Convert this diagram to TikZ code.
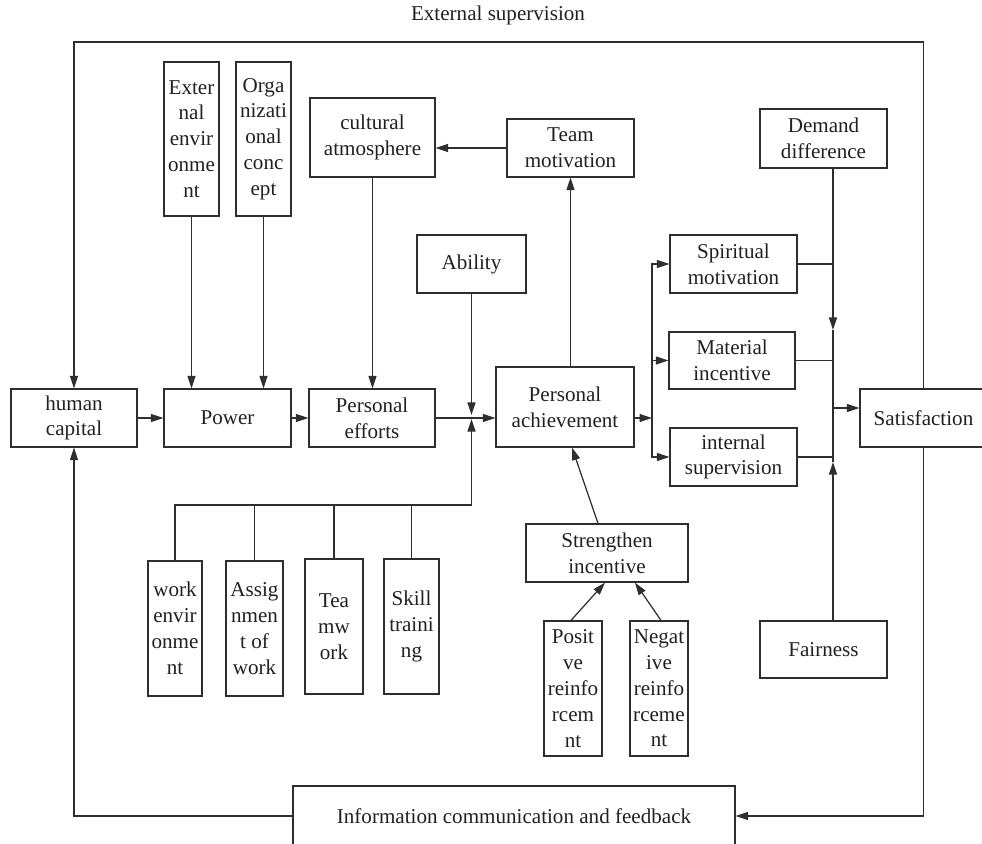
\documentclass[tikz,border=0pt]{standalone}
\usepackage{fontspec}
\setmainfont{Liberation Serif}
\usepackage{xcolor}
\usepackage{tikz}
\usetikzlibrary{arrows.meta,positioning}
\definecolor{LineDark}{HTML}{2E2E2E}
\definecolor{TextDark}{HTML}{231F20}
\newcommand\boxfont{\fontsize{12}{14.7}\selectfont}
\tikzset{
  widebox/.style={draw=LineDark,line width=0.7pt,align=center,inner sep=0pt,font=\boxfont,text=TextDark,minimum width=25.4mm,minimum height=11.6mm},
  tallbox/.style={widebox,minimum width=11.2mm,minimum height=27mm},
  linkarrow/.style={-{Triangle[length=2.5mm,width=1.6mm]},line width=0.7pt,draw=LineDark},
  plainlink/.style={line width=0.7pt,draw=LineDark}
}

\begin{document}
\begin{tikzpicture}[x=0.2mm,y=-0.2mm]
\useasboundingbox (0,0) rectangle (982,844);
\clip (0,0) rectangle (982,844);
\node[font=\boxfont,text=TextDark] (extsup) at (498,15) {External supervision};
\node[widebox,minimum width=25.2mm] (hcap) at (74,418) {human\\capital};
\node[widebox] (power) at (227.5,418) {Power};
\node[widebox,minimum width=25.2mm] (effort) at (372,418) {Personal\\efforts};
\node[widebox,minimum width=27.6mm,minimum height=16mm] (achieve) at (565,407) {Personal\\achievement};
\node[widebox] (satis) at (923.5,418) {Satisfaction};
\node[tallbox,minimum width=11mm,minimum height=30.8mm] (extenv) at (191.5,139) {Exter\\nal\\envir\\onme\\nt};
\node[tallbox,minimum width=11mm,minimum height=30.8mm] (orgcon) at (263.5,139) {Orga\\nizati\\onal\\conc\\ept};
\node[widebox,minimum width=25mm,minimum height=15.8mm] (culture) at (372.5,137.5) {cultural\\atmosphere};
\node[widebox] (teammot) at (570.5,148) {Team\\motivation};
\node[widebox,minimum height=11.8mm] (demand) at (823.5,138.5) {Demand\\difference};
\node[widebox,minimum width=21.8mm] (ability) at (471.5,264) {Ability};
\node[widebox] (spirit) at (733.5,264) {Spiritual\\motivation};
\node[widebox,minimum width=25.2mm,minimum height=11.4mm] (material) at (732,360.5) {Material\\incentive};
\node[widebox] (internal) at (733.5,457) {internal\\supervision};
\node[widebox,minimum width=32.4mm] (strength) at (607,553) {Strengthen\\incentive};
\node[tallbox,minimum width=11.6mm] (positive) at (573,688.5) {Posit\\ve\\reinfo\\rcem\\nt};
\node[tallbox,minimum width=11.6mm] (negative) at (659,688.5) {Negat\\ive\\reinfo\\rceme\\nt};
\node[widebox,minimum height=11.4mm] (fair) at (823.5,649.5) {Fairness};
\node[tallbox,minimum width=10.8mm] (workenv) at (175,628.5) {work\\envir\\onme\\nt};
\node[tallbox,minimum width=11.4mm] (assign) at (254.5,628.5) {Assig\\nmen\\t of\\work};
\node[tallbox,minimum width=11.6mm] (teamwork) at (334,626.5) {Tea\\mw\\ork};
\node[tallbox,minimum width=11mm] (skill) at (411.5,626.5) {Skill\\traini\\ng};
\node[widebox,minimum width=88.4mm,minimum height=12mm] (info) at (514,816) {Information communication and feedback};
\coordinate (ntop) at (74,42);
\coordinate (jin) at (471.5,418);
\coordinate (bar) at (471.5,505);
\coordinate (jout) at (652,418);
\coordinate (jtop) at (833,330);
\coordinate (jbot) at (833,462);
\coordinate (jsat) at (833,408);
\draw[linkarrow] (hcap) -- (power);
\draw[linkarrow] (power) -- (effort);
\draw[linkarrow] (extenv.south) -- (extenv.south |- power.north);
\draw[linkarrow] (orgcon.south) -- (orgcon.south |- power.north);
\draw[linkarrow] (culture.south) -- (culture.south |- effort.north);
\draw[linkarrow] (teammot.west) -- (culture.east |- teammot.west);
\draw[linkarrow] (effort.east) -- (effort.east -| achieve.west);
\draw[linkarrow,shorten >=0.6mm] (ability.south) -- (jin);
\draw[plainlink] (workenv.north) |- (bar);
\draw[plainlink] (assign.north) -- (assign.north |- bar);
\draw[plainlink] (teamwork.north) -- (teamwork.north |- bar);
\draw[plainlink] (skill.north) -- (skill.north |- bar);
\draw[linkarrow,shorten >=0.2mm] (bar) -- (jin);
\draw[linkarrow] (teammot.south |- achieve.north) -- (teammot.south);
\draw[linkarrow] (jout -| achieve.east) -- (jout);
\draw[linkarrow] (jout) |- (spirit.west);
\draw[linkarrow] (jout) |- (material.west);
\draw[linkarrow] (jout) |- (internal.west);
\draw[linkarrow] ([xshift=-1.8mm]strength.north) -- ([xshift=1.4mm]achieve.south);
\draw[linkarrow] (jtop |- demand.south) -- (jtop);
\draw[linkarrow] (jbot |- fair.north) -- (jbot);
\draw[plainlink] (jtop) -- (jbot);
\draw[plainlink] (spirit.east) -- (spirit.east -| jtop);
\draw[plainlink] (material.east) -- (material.east -| jtop);
\draw[plainlink] (internal.east) -- (internal.east -| jtop);
\draw[linkarrow] (jsat) -- (jsat -| satis.west);
\draw[linkarrow] ([xshift=-0.4mm]positive.north) -- ([xshift=-0.4mm]strength.south);
\draw[linkarrow] ([xshift=0.4mm]negative.north) -- ([xshift=5.6mm]strength.south);
\draw[linkarrow] (satis.north) |- (ntop) -- (hcap.north);
\draw[linkarrow] (satis.south) |- (info.east);
\draw[linkarrow] (info.west) -| (hcap.south);
\end{tikzpicture}
\end{document}
